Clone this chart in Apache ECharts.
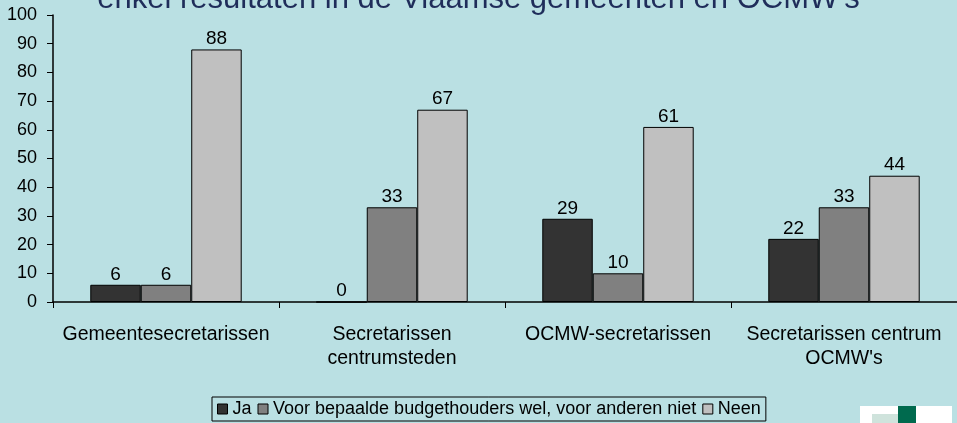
<!DOCTYPE html>
<html>
<head>
<meta charset="utf-8">
<script src="https://cdn.jsdelivr.net/npm/echarts@6/dist/echarts.min.js"></script>
<style>
html, body { margin: 0; padding: 0; background: #bae0e3; }
#chart { width: 957px; height: 423px; }
</style>
</head>
<body>
<div id="chart"></div>
<script>
// data
var categories = ['Gemeentesecretarissen', 'Secretarissen\ncentrumsteden', 'OCMW-secretarissen', 'Secretarissen centrum\nOCMW\'s'];
var seriesNames = ['Ja', 'Voor bepaalde budgethouders wel, voor anderen niet', 'Neen'];
var ja = [6, 0, 29, 22];
var bepaalde = [6, 33, 10, 33];
var neen = [88, 67, 61, 44];
var yTicks = [0, 10, 20, 30, 40, 50, 60, 70, 80, 90, 100];
var colors = ['#333333', '#808080', '#c0c0c0'];

var font = 'Liberation Sans, Arial, sans-serif';

function makeSeries(name, data, color) {
	return {
		name : name,
		type : 'bar',
		data : data,
		barGap : '0%',
		barCategoryGap : '33%',
		itemStyle : {
			color : color,
			borderColor : '#000',
			borderWidth : 1
		},
		label : {
			show : true,
			position : 'top',
			distance : 1,
			color : '#000',
			fontFamily : font,
			fontSize : 19
		}
	};
}

var myChart = echarts.init(document.getElementById('chart'));
var option = {
	backgroundColor : '#bae0e3',
	animation : false,
	title : {
		text : 'enkel resultaten in de Vlaamse gemeenten en OCMW\'s',
		left : 'center',
		top : -21,
		textStyle : {
			color : '#1f2d5a',
			fontFamily : font,
			fontWeight : 'normal',
			fontSize : 31
		}
	},
	legend : {
		data : seriesNames,
		left : 212,
		top : 397,
		padding : [3, 5, 3, 5],
		borderColor : '#000',
		borderWidth : 1,
		itemGap : 6,
		itemWidth : 10,
		itemHeight : 10,
		icon : 'rect',
		itemStyle : {
			borderColor : '#000',
			borderWidth : 1
		},
		textStyle : {
			color : '#000',
			fontFamily : font,
			fontSize : 18
		}
	},
	grid : {
		left : 53,
		top : 15,
		width : 916,
		height : 287
	},
	xAxis : {
		type : 'category',
		data : categories,
		axisLine : { lineStyle : { color : '#000', width : 1.5 } },
		axisTick : { show : true, length : 6, lineStyle : { color : '#000' } },
		axisLabel : {
			color : '#000',
			fontFamily : font,
			fontSize : 19.5,
			margin : 21,
			lineHeight : 24,
			interval : 0
		}
	},
	yAxis : {
		type : 'value',
		min : yTicks[0],
		max : yTicks[yTicks.length - 1],
		interval : 10,
		splitLine : { show : false },
		axisLine : { show : true, lineStyle : { color : '#000', width : 1.5 } },
		axisTick : { show : true, length : 6, lineStyle : { color : '#000' } },
		axisLabel : {
			color : '#000',
			fontFamily : font,
			fontSize : 18,
			margin : 16
		}
	},
	series : [
		makeSeries(seriesNames[0], ja, colors[0]),
		makeSeries(seriesNames[1], bepaalde, colors[1]),
		makeSeries(seriesNames[2], neen, colors[2])
	],
	graphic : [
		{ type : 'rect', left : 860, top : 406, shape : { width : 92, height : 20 }, style : { fill : '#ffffff' } },
		{ type : 'rect', left : 898, top : 406, shape : { width : 18, height : 20 }, style : { fill : '#006a4e' } },
		{ type : 'rect', left : 872, top : 414, shape : { width : 26, height : 12 }, style : { fill : '#cfe3dc' } }
	]
};
myChart.setOption(option);
</script>
</body>
</html>
